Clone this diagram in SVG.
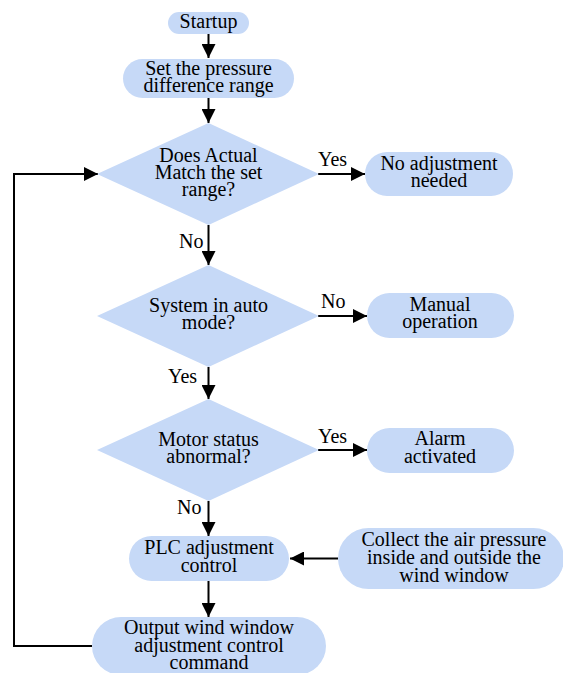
<svg xmlns="http://www.w3.org/2000/svg" width="563" height="673" viewBox="0 0 563 673">
<style>
.n{fill:#c6d9f7;stroke:none}
.t{font-family:'Liberation Serif','Times New Roman',serif;font-size:20px;fill:#000;text-anchor:middle}
.l{font-family:'Liberation Serif','Times New Roman',serif;font-size:20px;fill:#000}
.c{fill:none;stroke:#000;stroke-width:2}
</style>
<defs>
<marker id="ah" markerUnits="userSpaceOnUse" markerWidth="16" markerHeight="14" refX="14" refY="7" orient="auto">
<path d="M0,0 L14,7 L0,14 Z" fill="#000"/>
</marker>
</defs>
<rect width="563" height="673" fill="#fff"/>
<g id="connectors">
<line class="c" x1="208.5" y1="34" x2="208.5" y2="58" marker-end="url(#ah)"/>
<line class="c" x1="208.5" y1="98" x2="208.5" y2="123" marker-end="url(#ah)"/>
<line class="c" x1="318" y1="174" x2="365" y2="174" marker-end="url(#ah)"/>
<line class="c" x1="208.5" y1="225" x2="208.5" y2="265" marker-end="url(#ah)"/>
<line class="c" x1="318" y1="316" x2="367" y2="316" marker-end="url(#ah)"/>
<line class="c" x1="208.5" y1="367" x2="208.5" y2="399" marker-end="url(#ah)"/>
<line class="c" x1="318" y1="450" x2="367" y2="450" marker-end="url(#ah)"/>
<line class="c" x1="208.5" y1="501" x2="208.5" y2="536" marker-end="url(#ah)"/>
<line class="c" x1="338" y1="558.5" x2="290" y2="558.5" marker-end="url(#ah)"/>
<line class="c" x1="208.5" y1="581" x2="208.5" y2="617" marker-end="url(#ah)"/>
<polyline class="c" points="92,646 14,646 14,174 98,174" marker-end="url(#ah)"/>
<text class="l" x="318" y="166">Yes</text>
<text class="l" x="179" y="248">No</text>
<text class="l" x="321" y="308">No</text>
<text class="l" x="168" y="383">Yes</text>
<text class="l" x="318" y="443">Yes</text>
<text class="l" x="177" y="514">No</text>
</g>
<g id="startup">
<rect class="n" x="168" y="12" width="81" height="22" rx="11"/>
<text class="t" x="208.5" y="28">Startup</text>
</g>
<g id="set-range">
<rect class="n" x="123" y="59" width="171" height="39" rx="19.5"/>
<text class="t" x="208.5" y="75">Set the pressure</text>
<text class="t" x="208.5" y="92">difference range</text>
</g>
<g id="match">
<polygon class="n" points="208.5,123 319,174 208.5,225 97,174"/>
<text class="t" x="208.5" y="162">Does Actual</text>
<text class="t" x="208.5" y="179">Match the set</text>
<text class="t" x="208.5" y="196">range?</text>
</g>
<g id="no-adjust">
<rect class="n" x="365" y="152" width="148" height="44" rx="22"/>
<text class="t" x="439" y="170">No adjustment</text>
<text class="t" x="439" y="187">needed</text>
</g>
<g id="auto-mode">
<polygon class="n" points="208.5,265 319,316 208.5,367 97,316"/>
<text class="t" x="208.5" y="312">System in auto</text>
<text class="t" x="208.5" y="329">mode?</text>
</g>
<g id="manual">
<rect class="n" x="367" y="293" width="147" height="45" rx="22.5"/>
<text class="t" x="440" y="311">Manual</text>
<text class="t" x="440" y="328">operation</text>
</g>
<g id="motor">
<polygon class="n" points="208.5,399 319,450 208.5,501 97,450"/>
<text class="t" x="208.5" y="446">Motor status</text>
<text class="t" x="208.5" y="463">abnormal?</text>
</g>
<g id="alarm">
<rect class="n" x="367" y="428" width="147" height="45" rx="22.5"/>
<text class="t" x="440" y="445">Alarm</text>
<text class="t" x="440" y="463">activated</text>
</g>
<g id="plc">
<rect class="n" x="129" y="536" width="160" height="45" rx="22.5"/>
<text class="t" x="209" y="554">PLC adjustment</text>
<text class="t" x="209" y="572">control</text>
</g>
<g id="collect">
<rect class="n" x="338" y="528" width="226" height="61" rx="30.5"/>
<text class="t" x="454" y="546">Collect the air pressure</text>
<text class="t" x="454" y="564">inside and outside the</text>
<text class="t" x="454" y="582">wind window</text>
</g>
<g id="output">
<rect class="n" x="92" y="617" width="234" height="58" rx="29"/>
<text class="t" x="209" y="634">Output wind window</text>
<text class="t" x="209" y="652">adjustment control</text>
<text class="t" x="209" y="669">command</text>
</g>
</svg>
